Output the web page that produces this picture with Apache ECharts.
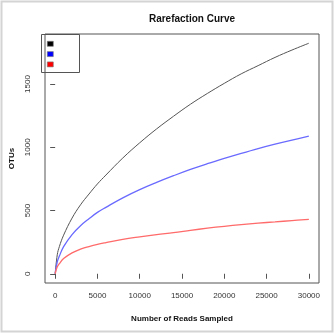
<!DOCTYPE html>
<html>
<head>
<meta charset="utf-8">
<script src="https://cdn.jsdelivr.net/npm/echarts@6/dist/echarts.min.js"></script>
<style>
  html, body { margin: 0; padding: 0; background: #fff; }
  #chart { width: 336px; height: 333px; }
</style>
</head>
<body>
<div id="chart"></div>
<script>
// Reads sampled (x) and OTUs observed for three samples
const readsSampled = [0, 250, 500, 1000, 2000, 3000, 4000, 5000, 6000, 8000, 10000,
  12000, 14000, 16000, 18000, 20000, 22000, 24000, 26000, 28000, 30000];
const otusBlack = [0, 150, 215, 305, 440, 545, 630, 710, 780, 915, 1035,
  1145, 1245, 1340, 1425, 1505, 1580, 1645, 1710, 1768, 1822];
const otusBlue = [0, 95, 140, 215, 310, 380, 435, 485, 525, 600, 665,
  722, 775, 825, 870, 912, 952, 990, 1025, 1057, 1087];
const otusRed = [0, 55, 80, 120, 165, 195, 215, 232, 246, 272, 292,
  310, 325, 343, 360, 375, 388, 400, 410, 420, 430];

const xTicks = [0, 5000, 10000, 15000, 20000, 25000, 30000];
const yTicks = [0, 500, 1000, 1500];

const pair = (ys) => readsSampled.map((x, i) => [x, ys[i]]);
const FONT = 'Liberation Sans';
const plain = (v) => String(v);

const chart = echarts.init(document.getElementById('chart'), null, { renderer: 'canvas' });

const mkSeries = (name, ys, color, width) => ({
  name, type: 'line', data: pair(ys), smooth: 0.4, showSymbol: false,
  lineStyle: { color, width }, itemStyle: { color },
  z: 3
});

chart.setOption({
  animation: false,
  title: {
    text: 'Rarefaction Curve', left: 187, top: 9, textAlign: 'center',
    textStyle: { fontFamily: FONT, fontWeight: 'bold', fontSize: 10, color: '#111' }
  },
  grid: {
    left: 41, top: 34, width: 278, height: 249, show: true,
    borderColor: '#555', borderWidth: 1, backgroundColor: 'transparent'
  },
  legend: {
    orient: 'vertical', left: 47, top: 41, itemWidth: 6, itemHeight: 5, itemGap: 4.7,
    icon: 'rect', padding: 0, formatter: () => '',
    textStyle: { fontSize: 1 },
    data: [
      { name: 'A', itemStyle: { color: '#000', borderColor: '#777', borderWidth: 0.6 } },
      { name: 'B', itemStyle: { color: '#0000ff', borderColor: '#777', borderWidth: 0.6 } },
      { name: 'C', itemStyle: { color: '#ff0000', borderColor: '#777', borderWidth: 0.6 } }
    ],
    selectedMode: false
  },
  xAxis: {
    type: 'value', min: -1200, max: 31200,
    name: 'Number of Reads Sampled', nameLocation: 'middle', nameGap: 32,
    nameTextStyle: { fontFamily: FONT, fontWeight: 'bold', fontSize: 8, color: '#111' },
    axisLine: { show: false },
    splitLine: { show: false },
    axisTick: { show: true, customValues: xTicks, length: 5, inside: false, lineStyle: { color: '#555' } },
    axisLabel: { customValues: xTicks, formatter: plain, margin: 9, fontFamily: FONT, fontSize: 8, color: '#333' }
  },
  yAxis: {
    type: 'value', min: -73, max: 1895,
    name: 'OTUs', nameLocation: 'middle', nameGap: 29, nameRotate: 90,
    nameTextStyle: { fontFamily: FONT, fontWeight: 'bold', fontSize: 8, color: '#111' },
    axisLine: { show: false },
    splitLine: { show: false },
    axisTick: { show: true, customValues: yTicks, length: 5, inside: false, lineStyle: { color: '#555' } },
    axisLabel: { customValues: yTicks, formatter: plain, rotate: 90, margin: 13, fontFamily: FONT, fontSize: 8, color: '#333' }
  },
  graphic: [
    { type: 'rect', shape: { x: 1.5, y: 1.5, width: 331, height: 330 },
      style: { fill: null, stroke: '#d4d4d4', lineWidth: 2 }, silent: true },
    { type: 'rect', shape: { x: 41.5, y: 34.5, width: 38, height: 38 },
      style: { fill: '#fff', stroke: '#555', lineWidth: 1 }, z: -1, silent: true }
  ],
  series: [
    mkSeries('A', otusBlack, '#555555', 1),
    mkSeries('B', otusBlue, '#6a6aff', 1.3),
    mkSeries('C', otusRed, '#ff6a6a', 1.3)
  ]
});
</script>
</body>
</html>
